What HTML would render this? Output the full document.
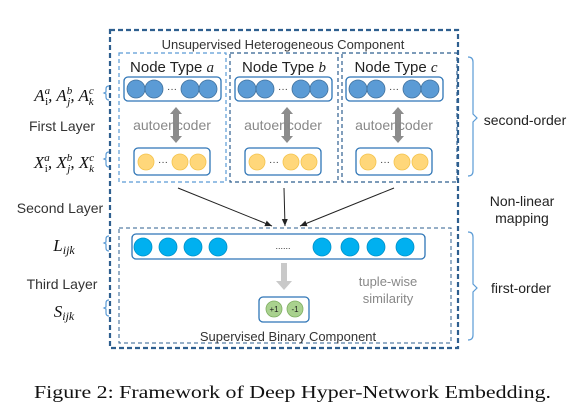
<!DOCTYPE html>
<html><head><meta charset="utf-8"><style>body{margin:0;background:#fff}svg{display:block}</style></head>
<body>
<svg width="584" height="420" viewBox="0 0 584 420" xmlns="http://www.w3.org/2000/svg" font-family="Liberation Sans, sans-serif">
<defs>
<marker id="ah" markerWidth="8" markerHeight="8" refX="7" refY="4" orient="auto" markerUnits="userSpaceOnUse"><path d="M0,1 L7,4 L0,7 Z" fill="#222"/></marker>
</defs>
<rect x="110" y="30" width="348" height="318" fill="none" stroke="#2e5f8f" stroke-width="2.2" stroke-dasharray="5,3"/>
<text x="283" y="49" font-size="13" fill="#333" text-anchor="middle">Unsupervised Heterogeneous Component</text>
<g fill="none" stroke-width="1.2" stroke-dasharray="4,3">
<rect x="119" y="53" width="107" height="129" stroke="#5b9bd5"/>
<rect x="230" y="53" width="108" height="129" stroke="#2e5f8f"/>
<rect x="342" y="53" width="115" height="129" stroke="#2e5f8f"/>
<rect x="119" y="228" width="332" height="115" stroke="#2e5f8f" stroke-width="1"/>
</g>
<g font-size="15" fill="#222" text-anchor="middle">
<text x="172" y="72">Node Type <tspan font-family="Liberation Serif" font-style="italic">a</tspan></text>
<text x="284" y="72">Node Type <tspan font-family="Liberation Serif" font-style="italic">b</tspan></text>
<text x="396" y="72">Node Type <tspan font-family="Liberation Serif" font-style="italic">c</tspan></text>
</g>
<g id="col">
<rect x="124" y="77" width="97" height="24" rx="4" fill="#fff" stroke="#2e75b6" stroke-width="1.3"/>
<g fill="#5b9bd5" stroke="#41719c" stroke-width="0.8">
<circle cx="136" cy="89" r="9"/><circle cx="154" cy="89" r="9"/><circle cx="190" cy="89" r="9"/><circle cx="208" cy="89" r="9"/>
</g>
<text x="172" y="92" font-size="10" fill="#333" text-anchor="middle">···</text>
<path d="M176,107 L182,114 L179,114 L179,136 L182,136 L176,143 L170,136 L173,136 L173,114 L170,114 Z" fill="#8c8c8c"/>
<text x="172" y="130" font-size="14" fill="#888" text-anchor="middle">autoencoder</text>
<rect x="134" y="148" width="76" height="27" rx="4" fill="#fff" stroke="#2e75b6" stroke-width="1.3"/>
<g fill="#ffd77a" stroke="#f4c34c" stroke-width="0.8">
<circle cx="146" cy="162" r="8"/><circle cx="180" cy="162" r="8"/><circle cx="198" cy="162" r="8"/>
</g>
<text x="163" y="165" font-size="10" fill="#333" text-anchor="middle">···</text>
</g>
<use href="#col" transform="translate(111,0)"/>
<use href="#col" transform="translate(222,0)"/>
<g stroke="#222" stroke-width="1" marker-end="url(#ah)">
<line x1="178" y1="188" x2="272" y2="226"/>
<line x1="284" y1="188" x2="285" y2="226"/>
<line x1="394" y1="188" x2="300" y2="226"/>
</g>
<rect x="132" y="234" width="293" height="25" rx="4" fill="#fff" stroke="#2e75b6" stroke-width="1.3"/>
<g fill="#00b0f0" stroke="#0090c8" stroke-width="0.8">
<circle cx="143" cy="247" r="9"/><circle cx="168" cy="247" r="9"/><circle cx="193" cy="247" r="9"/><circle cx="218" cy="247" r="9"/>
<circle cx="322" cy="247" r="9"/><circle cx="350" cy="247" r="9"/><circle cx="376" cy="247" r="9"/><circle cx="405" cy="247" r="9"/>
</g>
<text x="283" y="249" font-size="9" fill="#333" text-anchor="middle">......</text>
<path d="M281,263 L287,263 L287,281 L292,281 L284,290 L276,281 L281,281 Z" fill="#c9c9c9"/>
<rect x="259" y="297" width="50" height="25" rx="4" fill="#fff" stroke="#2e75b6" stroke-width="1.3"/>
<circle cx="274" cy="309" r="8" fill="#a9d18e" stroke="#7fae62" stroke-width="0.8"/>
<circle cx="295" cy="309" r="8" fill="#a9d18e" stroke="#7fae62" stroke-width="0.8"/>
<text x="274" y="312" font-size="8" fill="#222" text-anchor="middle">+1</text>
<text x="295" y="312" font-size="8" fill="#222" text-anchor="middle">-1</text>
<text x="388" y="286" font-size="13" fill="#888" text-anchor="middle">tuple-wise</text>
<text x="388" y="303" font-size="13" fill="#888" text-anchor="middle">similarity</text>
<text x="288" y="341" font-size="13" fill="#333" text-anchor="middle">Supervised Binary Component</text>
<g font-family="Liberation Serif, serif" font-style="italic" font-size="17" fill="#111" text-anchor="middle">
<text x="64" y="101">A<tspan font-size="11" dy="-7">a</tspan><tspan font-size="11" dx="-5" dy="11" font-style="normal">i</tspan><tspan dy="-4">, A</tspan><tspan font-size="11" dy="-7">b</tspan><tspan font-size="11" dx="-5" dy="11">j</tspan><tspan dy="-4">, A</tspan><tspan font-size="11" dy="-7">c</tspan><tspan font-size="11" dx="-5" dy="11">k</tspan></text>
<text x="64" y="168">X<tspan font-size="11" dy="-7">a</tspan><tspan font-size="11" dx="-5" dy="11" font-style="normal">i</tspan><tspan dy="-4">, X</tspan><tspan font-size="11" dy="-7">b</tspan><tspan font-size="11" dx="-5" dy="11">j</tspan><tspan dy="-4">, X</tspan><tspan font-size="11" dy="-7">c</tspan><tspan font-size="11" dx="-5" dy="11">k</tspan></text>
<text x="64" y="251">L<tspan font-size="12" dy="3">ijk</tspan></text>
<text x="64" y="317">S<tspan font-size="12" dy="3">ijk</tspan></text>
</g>
<g font-size="14" fill="#333" text-anchor="middle">
<text x="62" y="131">First Layer</text>
<text x="60" y="213">Second Layer</text>
<text x="62" y="289">Third Layer</text>
</g>
<g fill="none" stroke="#5b9bd5" stroke-width="1.2">
<path d="M109,86 q-3,0 -3,3 v3 l-2,1 l2,1 v3 q0,3 3,3"/>
<path d="M109,152 q-3,0 -3,3 v3 l-2,1 l2,1 v4 q0,3 3,3"/>
<path d="M109,236 q-3,0 -3,3 v3 l-2,1 l2,1 v4 q0,3 3,3"/>
<path d="M109,300 q-3,0 -3,3 v4 l-2,1 l2,1 v4 q0,3 3,3"/>
<path d="M468,57 q5,0 5,5 v52 l4,4 l-4,4 v49 q0,5 -5,5"/>
<path d="M468,232 q5,0 5,5 v47 l4,4 l-4,4 v43 q0,5 -5,5"/>
</g>
<g font-size="14" fill="#222" text-anchor="middle">
<text x="525" y="125">second-order</text>
<text x="522" y="206">Non-linear</text>
<text x="522" y="223">mapping</text>
<text x="521" y="293">first-order</text>
</g>
<text x="34" y="398" font-family="Liberation Serif, serif" font-size="18" fill="#111" textLength="517" lengthAdjust="spacingAndGlyphs">Figure 2: Framework of Deep Hyper-Network Embedding.</text>
</svg>
</body></html>
